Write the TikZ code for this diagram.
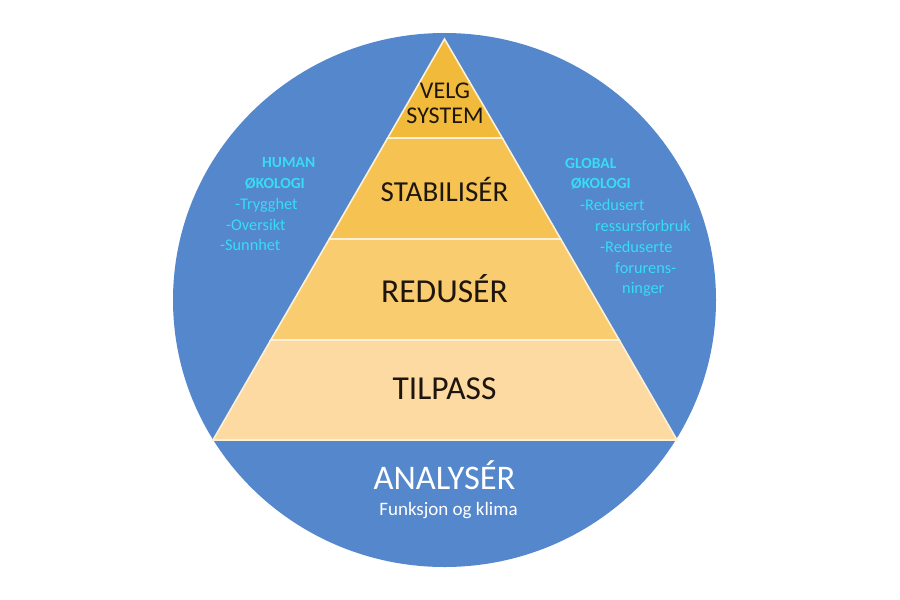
\documentclass[tikz,border=0pt]{standalone}
\usepackage{fontspec}
\setmainfont{Carlito}
\definecolor{circblue}{RGB}{84,135,204}
\definecolor{lay1}{RGB}{242,186,58}
\definecolor{lay2}{RGB}{246,195,82}
\definecolor{lay3}{RGB}{250,204,112}
\definecolor{lay4}{RGB}{253,218,162}
\definecolor{cyantext}{RGB}{55,220,245}
\definecolor{darktext}{RGB}{30,22,14}
\definecolor{seam}{RGB}{252,240,215}
\tikzset{
  layer/.style={draw=seam,line width=1.6pt,line join=miter},
  pyrtext/.style={inner sep=0pt,text=darktext,align=center},
  sidehead/.style={inner sep=0pt,anchor=west,text=cyantext,font=\fontsize{15.5}{16}\selectfont\bfseries},
  sideline/.style={inner sep=0pt,anchor=west,text=cyantext,font=\fontsize{16.3}{16}\selectfont},
}
\begin{document}
\begin{tikzpicture}[x=1pt,y=-1pt]
\useasboundingbox (0,0) rectangle (900,600);
\fill[white] (0,0) rectangle (900,600);
% circle
\fill[circblue] (444.5,300) ellipse [x radius=271.5, y radius=267];
% pyramid layers
\fill[lay1,layer] (444.5,39) -- (502.3,138) -- (387.7,138) -- cycle;
\fill[lay2,layer] (387.7,138) -- (502.3,138) -- (560.7,239) -- (329.3,239) -- cycle;
\fill[lay3,layer] (329.3,239) -- (560.7,239) -- (619.2,340) -- (270.8,340) -- cycle;
\fill[lay4,layer] (270.8,340) -- (619.2,340) -- (677,440) -- (213,440) -- cycle;
% pyramid texts
\node[pyrtext,font=\fontsize{24}{25}\selectfont] (velg) at (445,103) {VELG\\SYSTEM};
\node[pyrtext,font=\fontsize{29}{30}\selectfont] (stab) at (444.5,189) {STABILISÉR};
\node[pyrtext,font=\fontsize{33.5}{34}\selectfont] (red) at (444.5,289) {REDUSÉR};
\node[pyrtext,font=\fontsize{33.5}{34}\selectfont] (tilp) at (444.5,389) {TILPASS};
% bottom texts
\node[inner sep=0pt,text=white,font=\fontsize{34.5}{35}\selectfont] (anal) at (444.5,475) {ANALYSÉR};
\node[inner sep=0pt,text=white,font=\fontsize{19}{20}\selectfont] (funk) at (448.5,511) {Funksjon og klima};
% left side texts
\node[sidehead] (hum) at (262,163) {HUMAN};
\node[sidehead] (hok) at (245,184) {ØKOLOGI};
\node[sideline] (tr) at (235,205) {-Trygghet};
\node[sideline] (ov) at (226,225) {-Oversikt};
\node[sideline] (su) at (220,245) {-Sunnhet};
% right side texts
\node[sidehead] (glob) at (565,163) {GLOBAL};
\node[sidehead] (gok) at (571,184) {ØKOLOGI};
\node[sideline] (rd1) at (580,205) {-Redusert};
\node[sideline] (rf) at (595,226) {ressursforbruk};
\node[sideline] (rd2) at (600,247) {-Reduserte};
\node[sideline] (fo) at (615,268) {forurens-};
\node[sideline] (ni) at (622,289) {ninger};
\end{tikzpicture}
\end{document}
